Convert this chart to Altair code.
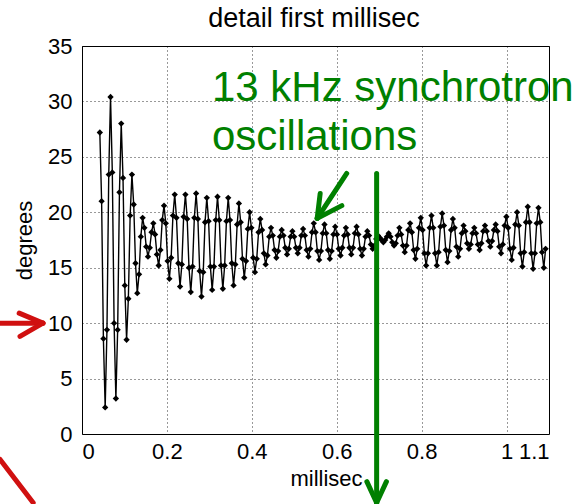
import altair as alt
import pandas as pd

# ---- data ----
t_start = 0.042          # ms, first sample
t_step = 0.0042          # ms between samples
degrees = [
    27.2, 21.0, 8.6, 2.4, 9.4, 23.4,
    30.4, 23.6, 10.0, 3.2, 9.4, 21.8,
    28.0, 23.1, 13.4, 8.5, 12.2, 19.7,
    23.4, 20.7, 15.4, 12.7, 14.4, 17.8,
    19.5, 18.6, 16.9, 16.0, 16.8, 18.2,
    19.0, 18.0, 16.2, 15.2, 16.6, 19.3,
    20.6, 19.0, 15.6, 14.0, 15.9, 19.7,
    21.6, 19.5, 15.4, 13.3, 15.3, 19.6,
    21.6, 19.4, 15.0, 12.8, 15.1, 19.5,
    21.7, 19.4, 14.7, 12.4, 14.6, 19.1,
    21.3, 19.2, 15.1, 13.0, 15.1, 19.3,
    21.4, 19.3, 15.2, 13.1, 15.2, 19.2,
    21.3, 19.3, 15.4, 13.4, 15.3, 18.9,
    20.8, 19.1, 15.8, 14.1, 15.6, 18.5,
    20.0, 18.6, 15.9, 14.6, 15.8, 18.2,
    19.4, 18.4, 16.3, 15.3, 16.1, 17.8,
    18.6, 17.9, 16.6, 15.9, 16.5, 17.8,
    18.4, 17.9, 16.8, 16.2, 16.7, 17.8,
    18.3, 17.8, 16.8, 16.3, 16.8, 17.9,
    18.5, 17.9, 16.6, 16.0, 16.7, 18.2,
    19.0, 18.2, 16.5, 15.7, 16.5, 18.1,
    18.9, 18.1, 16.6, 15.8, 16.5, 18.0,
    18.7, 18.0, 16.7, 16.1, 16.8, 17.9,
    18.6, 18.0, 16.8, 16.2, 16.8, 18.1,
    18.7, 18.0, 16.7, 16.1, 16.7, 17.8,
    18.3, 17.9, 17.1, 16.7, 17.0, 17.6,
    17.9, 17.7, 17.5, 17.3, 17.5, 17.8,
    18.1, 17.8, 17.3, 17.0, 17.2, 17.9,
    18.6, 18.0, 17.0, 16.4, 17.0, 18.4,
    19.0, 18.2, 16.6, 15.8, 16.7, 18.6,
    19.5, 18.4, 16.3, 15.2, 16.3, 18.6,
    19.7, 18.6, 16.3, 15.2, 16.4, 18.7,
    19.9, 18.8, 16.6, 15.5, 16.5, 18.4,
    19.4, 18.6, 16.9, 16.0, 16.7, 18.1,
    18.8, 18.3, 17.2, 16.7, 17.1, 18.1,
    18.6, 18.1, 17.1, 16.6, 17.2, 18.3,
    18.8, 18.3, 17.4, 16.9, 17.4, 18.4,
    18.9, 18.3, 16.9, 16.3, 17.1, 18.8,
    19.6, 18.6, 16.7, 15.7, 16.8, 18.9,
    20.0, 18.8, 16.3, 15.1, 16.4, 19.1,
    20.5, 19.1, 16.3, 14.9, 16.3, 19.0,
    20.4, 19.1, 16.4, 15.0, 16.7,
]
times = [round(t_start + t_step * i, 4) for i in range(len(degrees))]

x_ticks = [0, 0.2, 0.4, 0.6, 0.8, 1, 1.1]
y_ticks = [0, 5, 10, 15, 20, 25, 30, 35]
title_text = "detail first millisec"

# annotation text and arrows (in data units of the chart)
note_lines = ["13 kHz synchrotron", "oscillations"]
note_x = [0.306, 0.306]
note_y = [30.0, 25.6]

seg_x = [0.6235, 0.554, 0.554, 0.694, 0.694, 0.694, -0.193, -0.092, -0.092, -0.193]
seg_y = [23.5, 19.45, 19.45, 23.5, -6.2, -6.2, 10.0, 10.0, 10.0, -2.3]
seg_x2 = [0.554, 0.561, 0.612, 0.694, 0.671, 0.717, -0.092, -0.148, -0.146, -0.115]
seg_y2 = [19.45, 21.7, 20.6, -6.2, -4.3, -4.3, 10.0, 10.9, 8.8, -6.2]
seg_col = ["green"] * 6 + ["red"] * 4

df = pd.DataFrame({"t": times, "deg": degrees})
notes = pd.DataFrame({"x": note_x, "y": note_y, "label": note_lines})
segs = pd.DataFrame({"x": seg_x, "y": seg_y, "x2": seg_x2, "y2": seg_y2, "c": seg_col})
titles = pd.DataFrame({"label": [title_text]})

FONT = "Liberation Sans"
xs = alt.Scale(domain=[0, 1.1], nice=False, zero=False)
ys = alt.Scale(domain=[0, 35], nice=False, zero=False)

x_enc = alt.X(
    "t:Q", scale=xs,
    axis=alt.Axis(values=x_ticks, format="~g", title="millisec",
                  titleX=244, titleY=51, titleBaseline="alphabetic",
                  labelPadding=7),
)
y_enc = alt.Y(
    "deg:Q", scale=ys,
    axis=alt.Axis(values=y_ticks, title="degrees", titleX=-46,
                  titleBaseline="bottom", labelPadding=10),
)

line = alt.Chart(df).mark_line(
    color="black", strokeWidth=1.4,
    point=alt.OverlayMarkDef(shape="diamond", size=40, filled=True, color="black"),
).encode(x=x_enc, y=y_enc)

text = alt.Chart(notes).mark_text(
    align="left", baseline="alphabetic", font=FONT, fontSize=42, color="#008000",
).encode(x=alt.X("x:Q", scale=xs), y=alt.Y("y:Q", scale=ys), text="label:N")

arrows = alt.Chart(segs).mark_rule(strokeWidth=5, strokeCap="round").encode(
    x=alt.X("x:Q", scale=xs), y=alt.Y("y:Q", scale=ys),
    x2="x2:Q", y2="y2:Q",
    color=alt.Color("c:N", scale=alt.Scale(domain=["green", "red"],
                                           range=["#008000", "#d01010"]), legend=None),
)

title = alt.Chart(titles).mark_text(
    align="center", baseline="alphabetic", font=FONT, fontSize=27, color="black",
).encode(x=alt.value(232), y=alt.value(-19), text="label:N")

chart = alt.layer(line, text, arrows, title).properties(
    width=467, height=388,
    background="white",
    autosize=alt.AutoSizeParams(type="none"),
    padding={"left": 82, "top": 46, "right": 28, "bottom": 70},
).configure_view(
    stroke="black", strokeWidth=1,
).configure_axis(
    labelFont=FONT, labelFontSize=22, labelColor="black",
    titleFont=FONT, titleFontSize=22, titleFontWeight="normal", titleColor="black",
    domain=False, ticks=False,
    grid=True, gridColor="black", gridDash=[1, 3], gridOpacity=0.8, gridWidth=1,
)

chart.save("out.html", embed_options={"renderer": "svg", "actions": False})
